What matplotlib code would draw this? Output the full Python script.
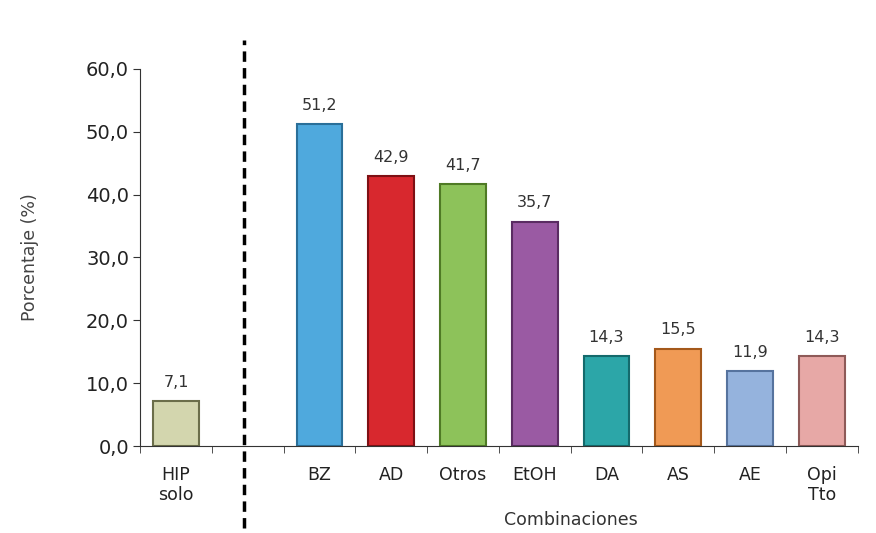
import numpy as np
import matplotlib.pyplot as plt

categories = ["HIP\nsolo", "", "BZ", "AD", "Otros", "EtOH", "DA", "AS", "AE", "Opi\nTto"]
values = [7.1, np.nan, 51.2, 42.9, 41.7, 35.7, 14.3, 15.5, 11.9, 14.3]
colors = ["#d3d6ae", "#ffffff", "#4fa9dd", "#d8282e", "#8dc25a", "#9a5aa3",
          "#2ca6a8", "#f09a55", "#95b3dd", "#e7a8a6"]
edges = ["#6b6e4a", "#ffffff", "#2a6f99", "#7e1014", "#4f7a25", "#5a2c62",
         "#146a6c", "#a4581a", "#56739e", "#8e5a58"]

plt.rcParams['font.family'] = ['DejaVu Sans']
fig = plt.figure(figsize=(8.76, 5.33), dpi=100)
ax = fig.add_axes([0.160, 0.163, 0.819, 0.708])

x = np.arange(len(categories))
bars = ax.bar(x, values, width=0.64, color=colors, edgecolor=edges, linewidth=1.5)
for xi, v in zip(x, values):
    if not np.isnan(v):
        ax.text(xi, v + 1.8, f"{v:.1f}".replace(".", ","), ha="center", va="bottom",
                fontsize=11.5, color="#333333")

ax.set_xlim(-0.5, len(categories) - 0.5)
ax.set_ylim(0, 60)
ax.set_yticks(np.arange(0, 61, 10))
ax.set_yticklabels([f"{t:.1f}".replace(".", ",") for t in np.arange(0, 61, 10)], fontsize=14, color="#222222")
ax.set_xticks(x)
ax.set_xticklabels(categories, fontsize=12.5, color="#222222")
ax.set_xticks(np.arange(-0.5, len(categories)), minor=True)
ax.tick_params(axis="x", which="major", length=0, pad=14)
ax.tick_params(axis="x", which="minor", length=5, direction="out", color="#333333")
ax.tick_params(axis="y", length=5, direction="out", color="#333333", pad=3)
for s in ["top", "right"]:
    ax.spines[s].set_visible(False)
ax.spines["left"].set_color("#333333")
ax.spines["bottom"].set_color("#333333")
ax.set_ylabel("Porcentaje (%)", fontsize=12.5, color="#444444", labelpad=34)

# dashed separator
ax.plot([0.95, 0.95], [-13, 64.5], linestyle=(0, (3, 1.8)), color="black", linewidth=2.5, clip_on=False)

fig.text(0.652, 0.008, "Combinaciones", ha="center", va="bottom", fontsize=12.5, color="#333333")

fig.savefig("out.png", dpi=100)
